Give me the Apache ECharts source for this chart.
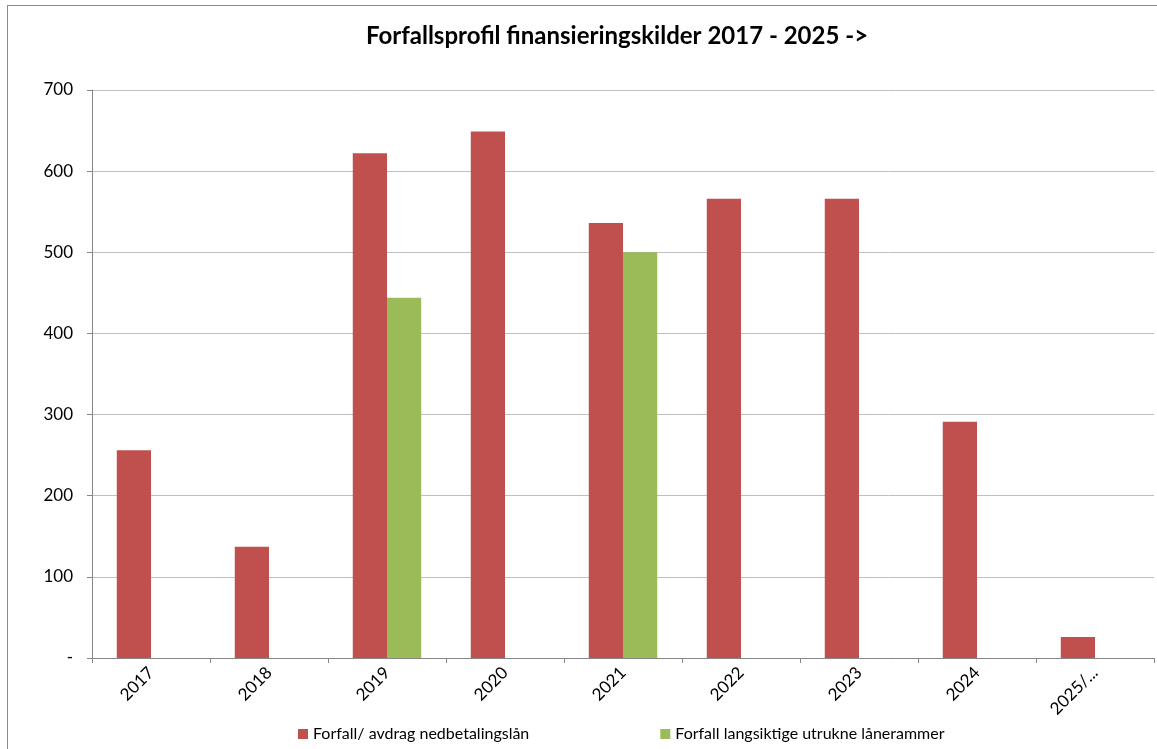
<!DOCTYPE html>
<html>
<head>
<meta charset="utf-8">
<script src="https://cdn.jsdelivr.net/npm/echarts@6/dist/echarts.min.js"></script>
<style>
  * { margin: 0; padding: 0; }
  body { background: #fff; }
  #frame {
    position: absolute;
    left: 7px;
    top: 5px;
    width: 1160px;
    height: 760px;
    border: 1px solid #8c8c8c;
    box-sizing: border-box;
  }
  #chart { position: absolute; left: 0; top: 0; width: 1157px; height: 749px; }
</style>
</head>
<body>
<div id="frame"></div>
<div id="chart"></div>
<script>
// data
var years = ['2017', '2018', '2019', '2020', '2021', '2022', '2023', '2024', '2025/...'];
var avdrag = [256, 137, 622, 649, 536, 566, 566, 291, 26];
var laanerammer = [null, null, 444, null, 500, null, null, null, null];
var yTicks = [0, 100, 200, 300, 400, 500, 600, 700];

var font = 'Lato, "Open Sans", sans-serif';

var myChart = echarts.init(document.getElementById('chart'));
myChart.setOption({
  animation: false,
  title: {
    text: 'Forfallsprofil finansieringskilder 2017 - 2025 ->',
    left: 612,
    top: 19,
    textAlign: 'center',
    textStyle: { fontFamily: font, fontSize: 24, fontWeight: 'bold', color: '#000' }
  },
  legend: {
    top: 721,
    left: 293,
    itemWidth: 10,
    itemHeight: 10,
    itemGap: 131,
    icon: 'rect',
    textStyle: { fontFamily: font, fontSize: 16, color: '#000' },
    data: ['Forfall/ avdrag nedbetalingslån', 'Forfall langsiktige utrukne lånerammer']
  },
  grid: { left: 92, right: 3, top: 90, bottom: 91, containLabel: false },
  xAxis: {
    type: 'category',
    data: years,
    axisLine: { lineStyle: { color: '#868686' } },
    axisTick: { show: true, length: 5, lineStyle: { color: '#868686' } },
    axisLabel: {
      rotate: 45,
      fontFamily: font,
      fontSize: 17,
      color: '#000',
      margin: 12
    }
  },
  yAxis: {
    type: 'value',
    min: 0,
    max: 700,
    interval: 100,
    axisLine: { show: true, lineStyle: { color: '#868686' } },
    axisTick: { show: true, length: 5, lineStyle: { color: '#868686' } },
    splitLine: { lineStyle: { color: '#bfbfbf' } },
    axisLabel: {
      fontFamily: font,
      fontSize: 17,
      color: '#000',
      margin: 19,
      formatter: function (v) {
        return yTicks.indexOf(v) === 0 ? '-' : String(v);
      }
    }
  },
  series: [
    {
      name: 'Forfall/ avdrag nedbetalingslån',
      type: 'bar',
      data: avdrag,
      barGap: '0%',
      barCategoryGap: '42%',
      itemStyle: { color: '#C0504D' }
    },
    {
      name: 'Forfall langsiktige utrukne lånerammer',
      type: 'bar',
      data: laanerammer,
      itemStyle: { color: '#9BBB59' }
    }
  ]
});
</script>
</body>
</html>
